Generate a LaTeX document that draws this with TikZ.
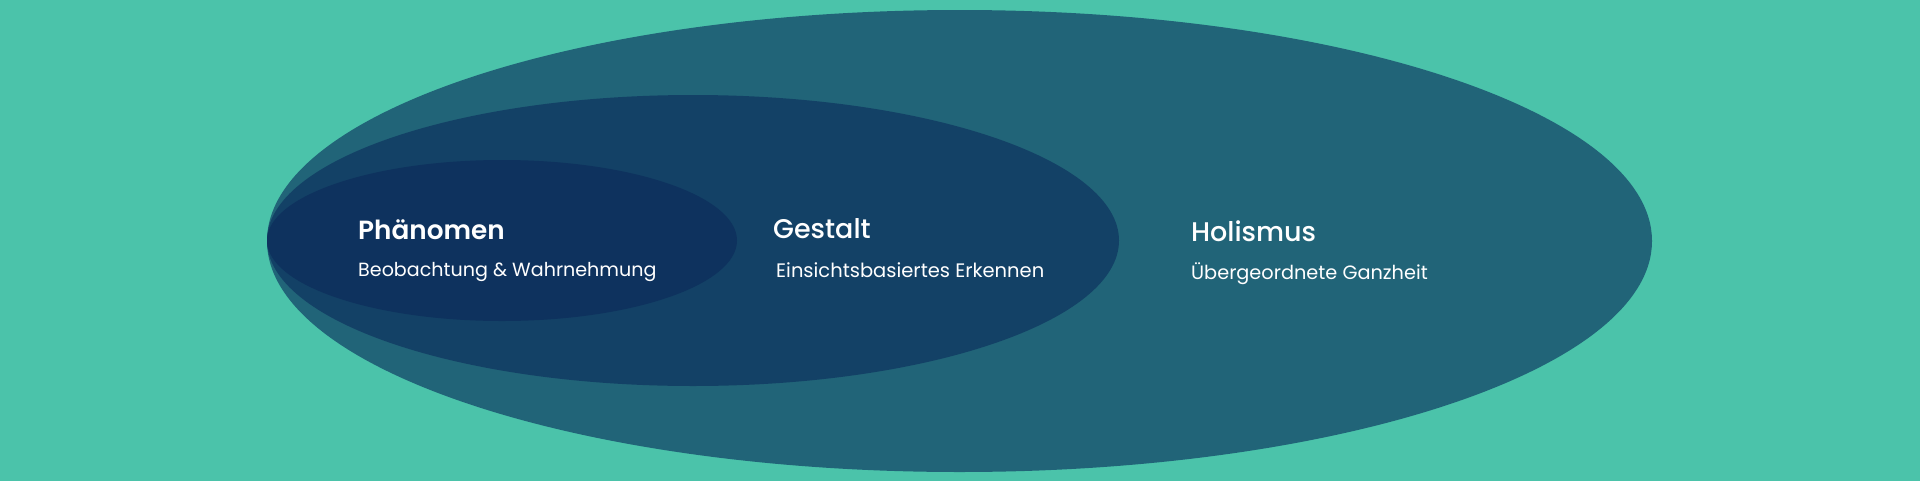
\documentclass[tikz,border=0pt]{standalone}
\usepackage{fontspec}
\setmainfont{Poppins}
\newfontfamily\ttlfont{Poppins}[UprightFont={* Medium},BoldFont={* SemiBold}]
\definecolor{bgc}{HTML}{4BC3AA}
\definecolor{outerc}{HTML}{216478}
\definecolor{midc}{HTML}{134166}
\definecolor{innerc}{HTML}{0E325E}
\begin{document}
\begin{tikzpicture}[x=1pt,y=-1pt,
  ttl/.style={text=white,inner sep=0pt,anchor=base west,font=\fontsize{27}{30}\ttlfont},
  sub/.style={text=white,inner sep=0pt,anchor=base west,font=\fontsize{19.3}{22}\selectfont}]
\useasboundingbox (0,0) rectangle (1920,480);
\fill[bgc] (-3,-3) rectangle (1923,483);
\fill[outerc] (959.5,241) ellipse [x radius=692.5, y radius=231];
\fill[midc] (693,240.5) ellipse [x radius=426, y radius=145.5];
\fill[innerc] (502,240.5) ellipse [x radius=235, y radius=80.5];
\node[ttl,font=\fontsize{26.3}{30}\ttlfont\bfseries] (t1) at (358,239) {Phänomen};
\node[sub,font=\fontsize{19.1}{22}\selectfont] (s1) at (358,276) {Beobachtung \& Wahrnehmung};
\node[ttl] (t2) at (773,238) {Gestalt};
\node[sub,font=\fontsize{19.5}{22}\selectfont] (s2) at (776,277) {Einsichtsbasiertes Erkennen};
\node[ttl] (t3) at (1191,241) {Holismus};
\node[sub] (s3) at (1191,279) {Übergeordnete Ganzheit};
\end{tikzpicture}
\end{document}
